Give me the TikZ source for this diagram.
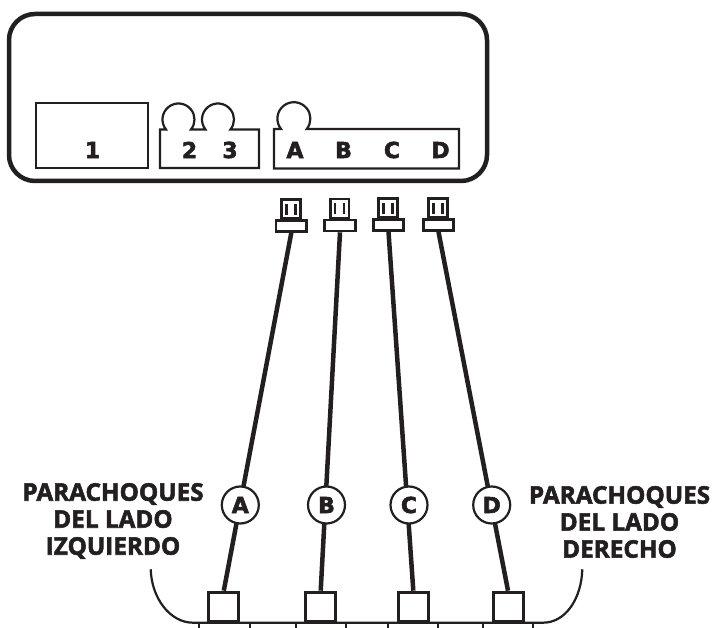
\documentclass[tikz,border=0pt]{standalone}
\usepackage{fontspec}
\setmainfont{Open Sans}
\newfontfamily\slabfont{DejaVu Sans}
\newcommand{\heavy}[1]{\special{pdf:code 2 Tr 0.55 w}#1\special{pdf:code 0 Tr}}
\definecolor{ink}{HTML}{231F20}
\tikzset{
 x=1pt,y=1pt,
 portlabel/.style={draw=none,inner sep=0,font=\slabfont\bfseries\fontsize{22}{22}\selectfont,text=ink},
 sidelabel/.style={draw=none,align=center,inner sep=0,font=\bfseries\fontsize{24.3}{27}\selectfont,text=ink},
 badge/.style={circle,draw=ink,line width=2.2pt,fill=white,minimum size=37pt,inner sep=0,font=\slabfont\bfseries\fontsize{22}{22}\selectfont,text=ink},
 sensorbox/.style={rectangle,draw=ink,line width=3pt,fill=white,minimum width=30pt,minimum height=29pt,inner sep=0},
 plugtop/.style={rectangle,draw=ink,line width=2.7pt,fill=white,minimum width=18.5pt,minimum height=19pt,inner sep=0},
 plugbase/.style={rectangle,draw=ink,line width=2.7pt,fill=white,minimum width=30.5pt,minimum height=11pt,inner sep=0},
 wire/.style={draw=ink,line width=4.5pt},
 thinbox/.style={draw=ink,line width=2.2pt},
 pin/.style={draw=ink,line width=2.5pt},
}
\begin{document}
\begin{tikzpicture}
\useasboundingbox (0,0) rectangle (714,628);
% housing
\draw[ink,line width=4.5pt,rounded corners=26pt] (9,447) rectangle (487,614);
% port 1
\draw[thinbox] (36,460) rectangle (148,525);
\node[portlabel] (l1) at (92.5,478) {\heavy{1}};
% port 2 3
\draw[thinbox] (160,460) -- (160,498.5) -- (166,498.5) arc[start angle=218.7,end angle=-38.7,radius=16] -- (205.5,498.5) arc[start angle=218.7,end angle=-38.7,radius=16] -- (259,498.5) -- (259,460) -- cycle;
\node[portlabel] (l2) at (189.5,478) {\heavy{2}};
\node[portlabel] (l3) at (230,478) {\heavy{3}};
% port A-D
\draw[thinbox] (274,459.5) -- (274,499) -- (281,499) arc[start angle=218.7,end angle=-38.7,radius=16.5] -- (459,499) -- (459,459.5) -- cycle;
\node[portlabel] (lA) at (295,478) {\heavy{A}};
\node[portlabel] (lB) at (343.5,478) {\heavy{B}};
\node[portlabel] (lC) at (392,478) {\heavy{C}};
\node[portlabel] (lD) at (440.5,478) {\heavy{D}};
% badges, sensors, plugs
\node[plugbase] (pa) at (291.3,402) {};
\node[plugbase] (pb) at (340,402.5) {};
\node[plugbase] (pc) at (388.5,403) {};
\node[plugbase] (pd) at (438.5,403) {};
\node[sensorbox] (sa) at (223.8,21.3) {};
\node[sensorbox] (sb) at (320.7,21.3) {};
\node[sensorbox] (sc) at (413.3,21.3) {};
\node[sensorbox] (sd) at (508,21.3) {};
\draw[wire] (pa.south) -- (sa.north);
\draw[wire] (pb.south) -- (sb.north);
\draw[wire] (pc.south) -- (sc.north);
\draw[wire] (pd.south) -- (sd.north);
\node[badge] (a) at (240.3,123) {\heavy{A}};
\node[badge] (b) at (326.5,123) {\heavy{B}};
\node[badge] (c) at (409,123) {\heavy{C}};
\node[badge] (d) at (491.7,123) {\heavy{D}};
\node[plugtop] (ta) at (291,419) {};
\node[plugtop] (tb) at (339.7,419.5) {};
\node[plugtop] (tc) at (388,420) {};
\node[plugtop] (td) at (438,420) {};
\foreach \n in {ta,tb,tc,td}{
 \draw[pin] ([xshift=-4.5pt,yshift=5pt]\n.center) -- ([xshift=-4.5pt,yshift=-6pt]\n.center);
 \draw[pin] ([xshift=4.5pt,yshift=5pt]\n.center) -- ([xshift=4.5pt,yshift=-6pt]\n.center);
}
% bumper
\draw[ink,line width=2.2pt] (150.7,58.7) .. controls (151.5,30) and (170,5.3) .. (193,5.3) -- (543,5.3) .. controls (566,5.3) and (581.5,30) .. (582.3,58.7);
\foreach \xa/\xb in {199/250,295.7/346,388/438,483/533}{
 \draw[ink,line width=2.2pt] (\xa,0) -- (\xa,5.3) -- (\xb,5.3) -- (\xb,0);
}
% texts
\node[sidelabel] (tl) at (113,107) {\heavy{PARACHOQUES}\\\heavy{DEL LADO}\\\heavy{IZQUIERDO}};
\node[sidelabel] (tr) at (619.5,106) {\heavy{PARACHOQUES}\\\heavy{DEL LADO}\\\heavy{DERECHO}};
\end{tikzpicture}
\end{document}
